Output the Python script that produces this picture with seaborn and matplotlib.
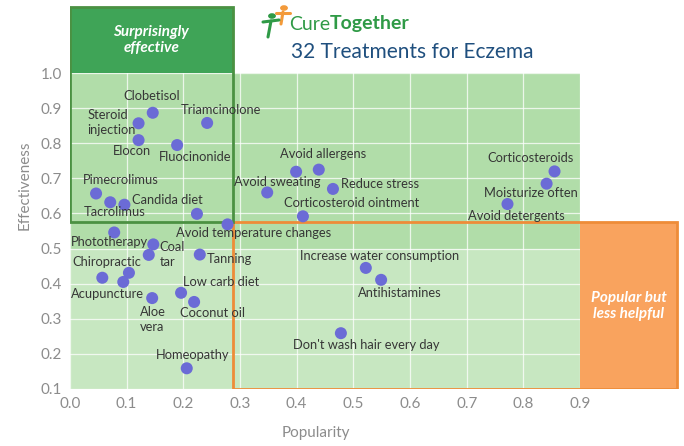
import matplotlib
matplotlib.use("Agg")
import matplotlib.pyplot as plt
import seaborn as sns
import pandas as pd
from matplotlib.patches import Rectangle

# ---------------- data ----------------
treatments = ["Clobetisol", "Steroid\ninjection", "Elocon", "Triamcinolone", "Fluocinonide",
              "Pimecrolimus", "Candida diet", "Tacrolimus", "", "Avoid temperature changes",
              "Avoid sweating", "", "Avoid allergens", "Reduce stress", "Corticosteroid ointment",
              "Corticosteroids", "Moisturize often", "Avoid detergents", "Phototherapy", "Coal\ntar",
              "Chiropractic", "Tanning", "Acupuncture", "", "", "Aloe\nvera", "Low carb diet",
              "Coconut oil", "Homeopathy", "Increase water consumption", "Antihistamines",
              "Don't wash hair every day"]
popularity = [0.146, 0.121, 0.121, 0.242, 0.189, 0.046, 0.096, 0.071, 0.224, 0.278,
              0.348, 0.399, 0.439, 0.464, 0.411, 0.855, 0.841, 0.772, 0.078, 0.147,
              0.139, 0.229, 0.057, 0.104, 0.094, 0.145, 0.196, 0.219, 0.206, 0.522,
              0.549, 0.478]
effectiveness = [0.887, 0.857, 0.809, 0.858, 0.795, 0.657, 0.625, 0.632, 0.599, 0.569,
                 0.660, 0.719, 0.725, 0.670, 0.592, 0.720, 0.685, 0.627, 0.546, 0.512,
                 0.482, 0.483, 0.417, 0.431, 0.405, 0.359, 0.374, 0.348, 0.159, 0.445,
                 0.411, 0.259]
x_ticks = [0.0, 0.1, 0.2, 0.3, 0.4, 0.5, 0.6, 0.7, 0.8, 0.9]
y_ticks = [0.1, 0.2, 0.3, 0.4, 0.5, 0.6, 0.7, 0.8, 0.9, 1.0]

# label placement (screen pixel offsets of label centre from the point; +y is down)
label_offsets = [(-1, -17), (-27, -1), (-7, 11), (14, -13), (18, 12),
                 (25, -13), (43, -5), (4, 10), (0, 0), (26, 9),
                 (10, -10), (0, 0), (4, -16), (47, -5), (49, -13),
                 (-24, -13), (-16, 9), (9, 12), (-5, 10), (19, 10),
                 (-42, 7), (30, 4), (5, 16), (0, 0), (0, 0), (1, 21), (40, -11),
                 (18, 11), (6, -13), (14, -12), (19, 13), (25, 12)]

df = pd.DataFrame({"Treatment": treatments, "Popularity": popularity,
                   "Effectiveness": effectiveness})

# ---------------- style ----------------
sns.set_theme(style="white")
plt.rcParams["font.family"] = ["Lato", "DejaVu Sans"]

W, H = 684, 446
fig = plt.figure(figsize=(W / 100, H / 100), dpi=100)
fig.patch.set_facecolor("white")

xmin, xmax = 0.0, 1.08
ymin, ymax = 0.1, 1.19
px_per_x = 566.7
px_per_y = 351.0
left_px, bottom_px = 70, 389
ax_w = (xmax - xmin) * px_per_x
ax_h = (ymax - ymin) * px_per_y
ax = fig.add_axes([left_px / W, 1 - bottom_px / H, ax_w / W, ax_h / H])
ax.set_xlim(xmin, xmax)
ax.set_ylim(ymin, ymax)
for s in ax.spines.values():
    s.set_visible(False)

gx0, gx1 = x_ticks[0], x_ticks[-1]
gy0, gy1 = y_ticks[0], y_ticks[-1]
split_y = 0.5
# background regions
ax.add_patch(Rectangle((gx0, gy0), gx1 - gx0, split_y - gy0, fc="#c7e7c1", ec="none", zorder=0.1))
ax.add_patch(Rectangle((gx0, split_y), gx1 - gx0, gy1 - split_y, fc="#b1dda9", ec="none", zorder=0.1))
clip_rect = Rectangle((gx0, gy0), gx1 - gx0, gy1 - gy0, fc="none", ec="none")
ax.add_patch(clip_rect)

ax.set_xticks(x_ticks)
ax.set_yticks(y_ticks)
ax.set_xticklabels([f"{v:.1f}" for v in x_ticks])
ax.set_yticklabels([f"{v:.1f}" for v in y_ticks])
ax.set_axisbelow(True)
ax.grid(True, color="white", lw=0.9, alpha=0.75)
for gl in ax.get_xgridlines() + ax.get_ygridlines():
    gl.set_clip_path(clip_rect)
ax.tick_params(length=0, labelsize=11, labelcolor="#8c8c8c", pad=6)

# quadrant boxes
qx, qy = 0.287, 0.576
box_top = 1.188
orange_right = 1.071
ax.add_patch(Rectangle((gx1, gy0), orange_right - gx1, qy - gy0, fc="#f9a35e", ec="none", zorder=2))
ax.add_patch(Rectangle((qx, gy0), orange_right - qx, qy - gy0, fc="none", ec="#ee8c38", lw=2, zorder=3))
ax.add_patch(Rectangle((gx0, gy1), qx - gx0, box_top - gy1, fc="#3fa457", ec="none", zorder=2))
ax.add_patch(Rectangle((gx0, qy), qx - gx0, box_top - qy, fc="none", ec="#4b9142", lw=2, zorder=3))

ax.text((gx0 + qx) / 2, (gy1 + box_top) / 2, "Surprisingly\neffective", color="white",
        fontsize=11, fontweight="bold", fontstyle="italic", ha="center", va="center",
        linespacing=1.15, zorder=4)
ax.text((gx1 + orange_right) / 2, 0.336, "Popular but\nless helpful", color="white",
        fontsize=11, fontweight="bold", fontstyle="italic", ha="center", va="center",
        linespacing=1.15, zorder=4)

# points
sns.scatterplot(data=df, x="Popularity", y="Effectiveness", ax=ax, color="#6b6bd6",
                s=75, edgecolor="none", zorder=5, legend=False)

# labels
for name, xv, yv, (dx, dy) in zip(treatments, popularity, effectiveness, label_offsets):
    if not name:
        continue
    ax.annotate(name, (xv, yv), xytext=(dx, -dy), textcoords="offset pixels",
                ha="center", va="center", fontsize=9.3, color="#363636",
                multialignment="left", linespacing=1.3, zorder=6)

ax.set_xlabel("Popularity", fontsize=11, color="#8c8c8c")
ax.set_ylabel("Effectiveness", fontsize=11, color="#8c8c8c")
ax.yaxis.set_label_coords(-(left_px - 25) / ax_w, (bottom_px - 185) / ax_h)
ax.xaxis.set_label_coords((316 - left_px) / ax_w, -(433 - bottom_px) / ax_h)
ax.xaxis.label.set_va("center")
ax.yaxis.label.set_va("center")

# title / logo
fig.text(291 / W, 1 - 52 / H, "32 Treatments for Eczema", fontsize=15, color="#1f4f7e",
         ha="left", va="center")
t1 = fig.text(289 / W, 1 - 24 / H, "Cure", fontsize=14, color="#2f9a46", ha="left", va="center")
fig.canvas.draw()
bb = t1.get_window_extent()
fig.text(bb.x1 / W, 1 - 24 / H, "Together", fontsize=14, color="#2f9a46", fontweight="bold",
         ha="left", va="center")
# simple logo figures
fig.add_artist(plt.Circle((284 / W, 1 - 8 / H), 3.2 / W, color="#f39a3a", transform=fig.transFigure))
fig.add_artist(plt.Line2D([276 / W, 290 / W], [1 - 13 / H, 1 - 13 / H], color="#f39a3a", lw=2.2))
fig.add_artist(plt.Line2D([283 / W, 281 / W], [1 - 12 / H, 1 - 24 / H], color="#f39a3a", lw=2.2))
fig.add_artist(plt.Circle((272 / W, 1 - 16 / H), 3.2 / W, color="#2f9a46", transform=fig.transFigure))
fig.add_artist(plt.Line2D([263 / W, 279 / W], [1 - 22 / H, 1 - 20 / H], color="#2f9a46", lw=2.2))
fig.add_artist(plt.Line2D([271 / W, 268 / W], [1 - 21 / H, 1 - 37 / H], color="#2f9a46", lw=2.2))

fig.savefig("out.png", dpi=100, facecolor="white")
